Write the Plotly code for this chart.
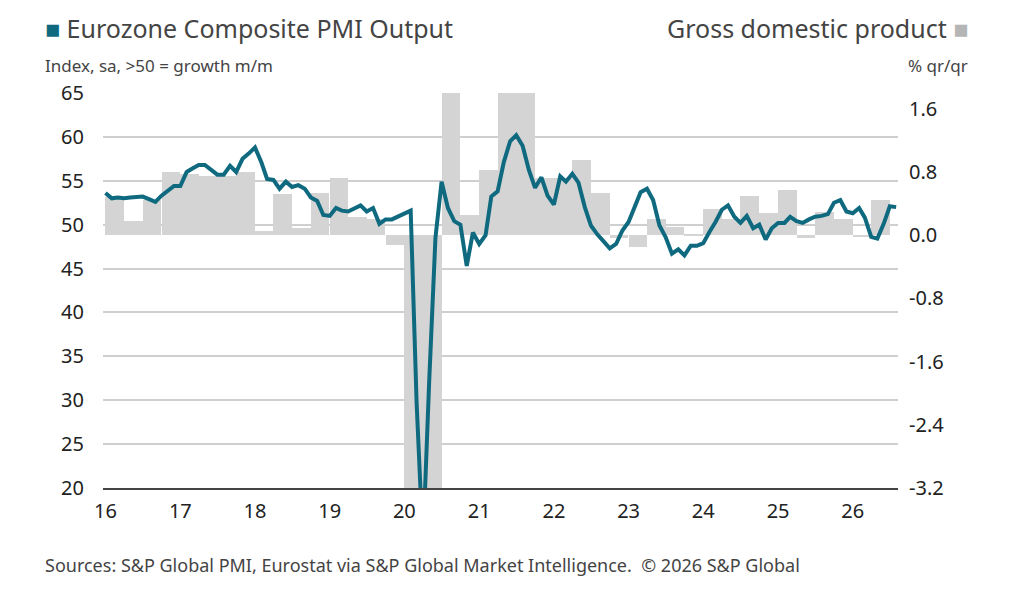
import plotly.graph_objects as go
import pandas as pd

pmi_values = [
    53.6, 53.0, 53.1, 53.0, 53.1, 53.1, 53.2, 52.9, 52.6, 53.3, 53.9, 54.4,
    54.4, 56.0, 56.4, 56.8, 56.8, 56.3, 55.7, 55.7, 56.7, 56.0, 57.5, 58.1,
    58.8, 57.1, 55.2, 55.1, 54.1, 54.9, 54.3, 54.5, 54.1, 53.1, 52.7, 51.1,
    51.0, 51.9, 51.6, 51.5, 51.8, 52.2, 51.5, 51.9, 50.1, 50.6, 50.6, 50.9,
    51.3, 51.6, 29.7, 13.6, 31.9, 48.5, 54.9, 51.9, 50.4, 50.0, 45.3, 49.1,
    47.8, 48.8, 53.2, 53.8, 57.1, 59.5, 60.2, 59.0, 56.2, 54.2, 55.4, 53.3,
    52.3, 55.5, 54.9, 55.8, 54.8, 52.0, 49.9, 48.9, 48.1, 47.3, 47.8, 49.3,
    50.3, 52.0, 53.7, 54.1, 52.8, 49.9, 48.6, 46.7, 47.2, 46.5, 47.6, 47.6,
    47.9, 49.2, 50.3, 51.7, 52.2, 50.9, 50.2, 51.0, 49.6, 50.0, 48.3, 49.6,
    50.2, 50.2, 50.9, 50.4, 50.2, 50.6, 50.9, 51.0, 51.2, 52.5, 52.8, 51.5,
    51.3, 51.9, 50.8, 48.6, 48.4, 50.1, 52.1, 52.0,
]
pmi_dates = pd.date_range("2016-01-01", periods=len(pmi_values), freq="MS")

gdp_values = [
    0.48, 0.18, 0.45, 0.80,
    0.78, 0.75, 0.75, 0.80,
    0.05, 0.52, 0.09, 0.53,
    0.72, 0.23, 0.20, -0.12,
    -3.7, -11.1, 12.5, 0.26,
    0.82, 2.1, 2.2, 0.73,
    0.73, 0.95, 0.53, -0.03,
    -0.15, 0.20, 0.10, 0.02,
    0.33, 0.20, 0.50, 0.28,
    0.57, -0.03, 0.30, 0.20,
    -0.02, 0.44,
]
gdp_dates = pd.date_range("2016-01-01", periods=len(gdp_values), freq="QS")

year_ticks = pd.date_range("2016-01-01", "2026-01-01", freq="YS")
year_labels = [d.strftime("%y") for d in year_ticks]
left_ticks = [20, 25, 30, 35, 40, 45, 50, 55, 60, 65]
right_ticks = [-3.2, -2.4, -1.6, -0.8, 0.0, 0.8, 1.6]
right_labels = ["-3.2", "-2.4", "-1.6", "-0.8", "0.0", "0.8", "1.6"]

teal = "#0f6a80"
grey = "#d4d4d4"
txt = "#444444"

fig = go.Figure()
# GDP bars on the base (right-hand) axis so the PMI line is drawn above them
fig.add_trace(go.Bar(
    x=gdp_dates, y=gdp_values, yaxis="y",
    width=91 * 86400000, offset=0,
    marker=dict(color=grey, line=dict(width=0)),
))
fig.add_trace(go.Scatter(
    x=pmi_dates, y=pmi_values, mode="lines", yaxis="y2",
    line=dict(color=teal, width=4),
))

fig.update_layout(
    width=1024, height=592,
    margin=dict(l=95, r=134, t=85, b=112),
    paper_bgcolor="white", plot_bgcolor="white",
    font=dict(family="Noto Sans", color=txt),
    showlegend=False,
    bargap=0,
    xaxis=dict(
        range=["2015-12-20", "2026-08-10"],
        tickvals=year_ticks, ticktext=year_labels,
        tickfont=dict(size=20, color="#222"),
        showgrid=False, showline=True, linecolor="#444", linewidth=1.5,
        ticks="", ticklabelstandoff=4,
    ),
    yaxis=dict(
        range=[-3.2, 1.8], side="right",
        tickvals=right_ticks, ticktext=right_labels,
        tickfont=dict(size=20, color="#222"),
        showgrid=False, zeroline=False, ticks="", ticklabelstandoff=10,
    ),
    yaxis2=dict(
        range=[20, 65], tickvals=left_ticks, overlaying="y", side="left",
        tickfont=dict(size=20, color="#222"),
        gridcolor="#cfcfcf", gridwidth=1.5, zeroline=False,
        ticks="", ticklabelstandoff=18,
    ),
    shapes=[dict(type="line", xref="paper", yref="y2", x0=0, x1=1, y0=50, y1=50,
                 line=dict(color="#8a8a8a", width=1.5), layer="below")],
    annotations=[
        dict(text="<span style='color:%s'>■</span> Eurozone Composite PMI Output" % teal,
             xref="paper", yref="paper", x=-0.075, y=1.02, yanchor="bottom", xanchor="left",
             yshift=38, showarrow=False, font=dict(size=25, color=txt)),
        dict(text="Index, sa, >50 = growth m/m", xref="paper", yref="paper",
             x=-0.075, y=1.02, xanchor="left", yanchor="bottom", yshift=6, showarrow=False,
             font=dict(size=17, color=txt)),
        dict(text="Gross domestic product <span style='color:#b5b5b5'>■</span>",
             xref="paper", yref="paper", x=1.09, y=1.02, xanchor="right", yanchor="bottom",
             yshift=38, showarrow=False, font=dict(size=25, color=txt)),
        dict(text="% qr/qr", xref="paper", yref="paper", x=1.09, y=1.02,
             xanchor="right", yanchor="bottom", yshift=6, showarrow=False,
             font=dict(size=17, color=txt)),
        dict(text="Sources: S&P Global PMI, Eurostat via S&P Global Market Intelligence.  © 2026 S&P Global",
             xref="paper", yref="paper", x=-0.075, y=-0.16, xanchor="left", yanchor="top",
             showarrow=False, font=dict(size=18, color=txt)),
    ],
)

fig.write_html("out.html")
